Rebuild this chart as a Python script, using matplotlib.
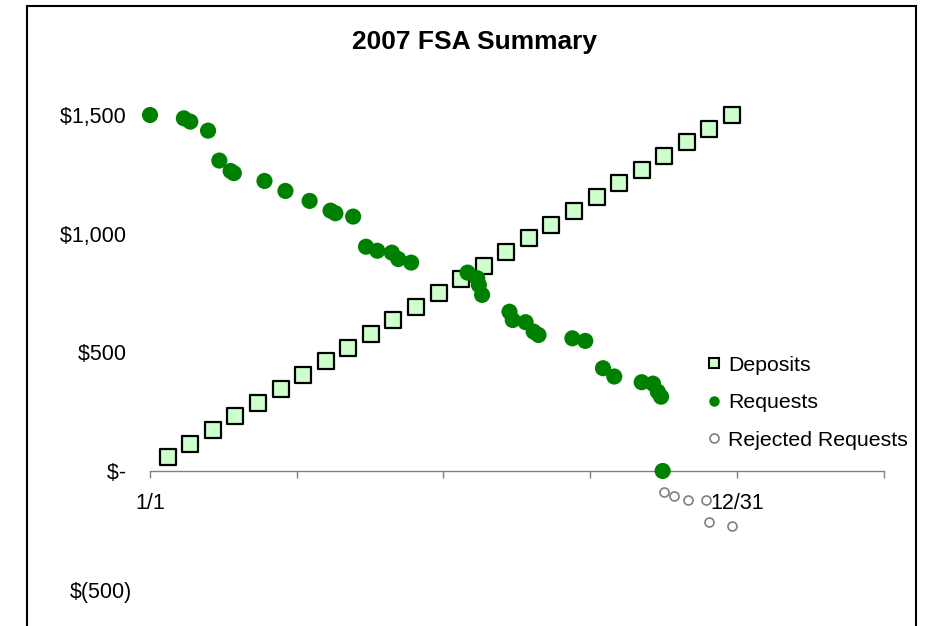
import matplotlib.pyplot as plt
from matplotlib.lines import Line2D
from matplotlib.patches import Rectangle

plt.rcParams["font.family"] = ["Liberation Sans", "DejaVu Sans"]

# day of year (1/1 = 0) and running totals in dollars
deposit_days = [11, 25, 39, 53, 67, 81, 95, 109, 123, 137, 151, 165, 179,
                193, 207, 221, 235, 249, 263, 277, 291, 305, 319, 333, 347, 361]
deposit_totals = [58, 115, 173, 231, 288, 346, 404, 462, 519, 577, 635, 692, 750,
                  808, 865, 923, 981, 1038, 1096, 1154, 1212, 1269, 1327, 1385, 1442, 1500]

request_days = [0, 21, 25, 36, 43, 50, 52, 71, 84, 99, 112, 115, 126, 134, 141,
                150, 154, 162, 197, 203, 204, 206, 223, 225, 233, 238, 241, 262,
                270, 281, 288, 305, 312, 315, 317, 318]
request_balance = [1500, 1486, 1472, 1434, 1308, 1264, 1255, 1222, 1180, 1138,
                   1097, 1086, 1072, 945, 928, 920, 893, 878, 836, 812, 784, 742,
                   671, 636, 627, 587, 573, 559, 548, 433, 398, 374, 368, 334,
                   313, 0]

rejected_days = [319, 325, 334, 345, 347, 361]
rejected_balance = [-90, -105, -122, -122, -215, -232]

y_ticks = [-500, 0, 500, 1000, 1500]
y_labels = ["$(500)", "$- ", "$500 ", "$1,000 ", "$1,500 "]
x_ticks = [0, 91, 182, 273, 364, 455]
x_labels = ["1/1", "", "", "", "12/31", ""]

green = "#008000"
pale = "#CCFFCC"
grey = "#808080"

fig = plt.figure(figsize=(9.3, 6.26), dpi=100)
ax = fig.add_axes([0.1613, 0.0581, 0.7887, 0.7582])

ax.scatter(deposit_days, deposit_totals, marker="s", s=118, c=pale,
           edgecolors="black", linewidths=1.6, clip_on=False, zorder=3)
ax.scatter(request_days, request_balance, marker="o", s=135, c=green,
           edgecolors="none", clip_on=False, zorder=4)
ax.scatter(rejected_days, rejected_balance, marker="o", s=42, c="white",
           edgecolors=grey, linewidths=1.2, clip_on=False, zorder=4)

ax.set_xlim(0, 455)
ax.set_ylim(-500, 1500)

for side in ["top", "right", "left"]:
    ax.spines[side].set_visible(False)
ax.spines["bottom"].set_position(("data", 0))
ax.spines["bottom"].set_color(grey)
ax.spines["bottom"].set_linewidth(1.0)

ax.set_xticks(x_ticks)
ax.set_xticklabels(x_labels)
ax.set_yticks(y_ticks)
ax.set_yticklabels(y_labels)
ax.tick_params(axis="x", direction="out", length=5, width=1.0, color=grey,
               labelsize=15.5, pad=11)
ax.tick_params(axis="y", length=0, labelsize=15.5, pad=13)

fig.text(0.5097, 0.933, "2007 FSA Summary", ha="center", va="center",
         fontsize=19, fontweight="bold")

handles = [
    Line2D([], [], ls="none", marker="s", ms=7, mfc=pale, mec="black", mew=1.5),
    Line2D([], [], ls="none", marker="o", ms=7.5, mfc=green, mec="none"),
    Line2D([], [], ls="none", marker="o", ms=6.5, mfc="white", mec=grey, mew=1.2),
]
fig.legend(handles, ["Deposits", "Requests", "Rejected Requests"],
           loc="upper left", bbox_to_anchor=(0.7586, 0.4321), frameon=False,
           fontsize=15.3, handlelength=0.8, handletextpad=0.26,
           labelspacing=0.88, borderpad=0, borderaxespad=0)

# chart border
fig.patches.append(Rectangle((0.029, -0.1), 0.956, 1.0904, transform=fig.transFigure,
                             fill=False, edgecolor="black", linewidth=1.5))

fig.savefig("out.png", dpi=100)
